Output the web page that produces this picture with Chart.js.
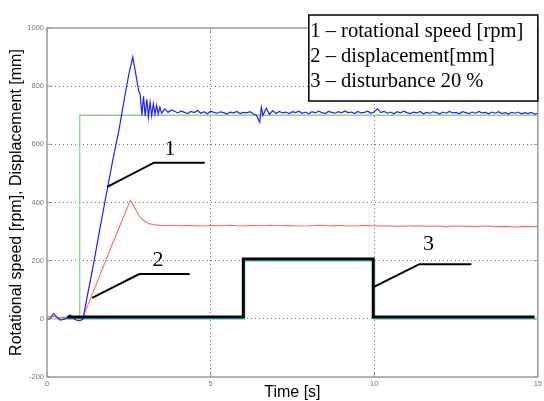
<!DOCTYPE html>
<html>
<head>
<meta charset="utf-8">
<script src="https://cdn.jsdelivr.net/npm/chart.js@4"></script>
<style>
  html, body { margin: 0; background: #fff; }
  #wrap { width: 544px; height: 401px; }
</style>
</head>
<body>
<div id="wrap"><canvas id="c"></canvas></div>
<script>
// Axis ranges / ticks
const timeTicks = [0, 5, 10, 15];
const valueTicks = [-200, 0, 200, 400, 600, 800, 1000];

// Reference speed (green step), [t, rpm]
const referenceSpeed = [[0, 0], [1.0, 0], [1.0, 700], [15, 700]];

// Measured rotational speed (blue), [t, rpm]
const rotationalSpeed = [
  [0, -3], [0.1, 2], [0.2, 18], [0.3, 6], [0.4, -4], [0.5, -2], [0.6, 1], [0.7, 14], [0.8, 3],
  [0.9, -5], [1.0, -6], [1.1, -2], [1.2, 60], [1.4, 175], [1.6, 300], [1.8, 420], [2.0, 540],
  [2.2, 650], [2.4, 780], [2.5, 840], [2.62, 900], [2.7, 850], [2.8, 785], [2.85, 770], [2.9, 700],
  [2.95, 765], [3.0, 698], [3.05, 755], [3.1, 694], [3.15, 745], [3.2, 698], [3.25, 740], [3.3, 704],
  [3.35, 734], [3.4, 704], [3.45, 728], [3.5, 707], [3.6, 722], [3.7, 710], [3.8, 718],
  [3.9, 714], [4.0, 708], [4.1, 715], [4.2, 710], [4.3, 706], [4.4, 713], [4.5, 709], [4.6, 716],
  [4.7, 707], [4.8, 712], [4.9, 705], [5.0, 714], [5.1, 710], [5.2, 707], [5.3, 712], [5.4, 709],
  [5.5, 704], [5.6, 711], [5.7, 708], [5.8, 713], [5.9, 706], [6.0, 710], [6.1, 708], [6.2, 712],
  [6.3, 705], [6.4, 700], [6.5, 676], [6.55, 728], [6.6, 700], [6.7, 724], [6.8, 703], [6.9, 716],
  [7.0, 706], [7.1, 713], [7.2, 708], [7.3, 711], [7.4, 706], [7.5, 712], [7.6, 709], [7.7, 714],
  [7.8, 707], [7.9, 711], [8.0, 705], [8.1, 712], [8.2, 708], [8.3, 714], [8.4, 709], [8.5, 706],
  [8.6, 713], [8.7, 710], [8.8, 707], [8.9, 712], [9.0, 708], [9.1, 715], [9.2, 709], [9.3, 711],
  [9.4, 706], [9.5, 713], [9.6, 708], [9.7, 710], [9.8, 714], [9.9, 707], [10.0, 712], [10.1, 722],
  [10.2, 709], [10.3, 713], [10.4, 707], [10.5, 711], [10.6, 705], [10.7, 712], [10.8, 708],
  [10.9, 714], [11.0, 709], [11.1, 706], [11.2, 711], [11.3, 708], [11.4, 713], [11.5, 705],
  [11.6, 710], [11.7, 707], [11.8, 712], [11.9, 709], [12.0, 704], [12.1, 711], [12.2, 707],
  [12.3, 713], [12.4, 708], [12.5, 710], [12.6, 705], [12.7, 712], [12.8, 709], [12.9, 706],
  [13.0, 711], [13.1, 707], [13.2, 713], [13.3, 708], [13.4, 710], [13.5, 705], [13.6, 711],
  [13.7, 707], [13.8, 712], [13.9, 706], [14.0, 709], [14.1, 704], [14.2, 710], [14.3, 707],
  [14.4, 711], [14.5, 705], [14.6, 709], [14.7, 706], [14.8, 710], [14.9, 704], [15.0, 707]
];

// Displacement (red), [t, mm]
const displacement = [
  [0, 6], [0.2, 9], [0.4, 4], [0.6, 6], [0.8, 5], [1.0, 4], [1.1, 6], [1.5, 117], [2.0, 258],
  [2.55, 408], [2.65, 390], [2.8, 356], [2.95, 338], [3.1, 328], [3.3, 323], [3.5, 321],
  [3.8, 322], [4.1, 320], [4.4, 321], [4.7, 319], [5.0, 321], [5.3, 320], [5.6, 322], [5.9, 319],
  [6.2, 321], [6.5, 320], [6.8, 322], [7.1, 320], [7.4, 321], [7.7, 319], [8.0, 320], [8.3, 322],
  [8.6, 320], [8.9, 321], [9.2, 319], [9.5, 320], [9.8, 321], [10.1, 319], [10.4, 320],
  [10.7, 318], [11.0, 319], [11.3, 320], [11.6, 318], [11.9, 319], [12.2, 317], [12.5, 319],
  [12.8, 318], [13.1, 317], [13.4, 319], [13.7, 317], [14.0, 318], [14.3, 316], [14.6, 318],
  [15.0, 317]
];

// Disturbance 20 % (black) and its reference (cyan)
const disturbance = [[0.62, 6], [6.0, 6], [6.0, 206], [9.97, 206], [9.97, 6], [14.9, 6]];
const disturbanceRef = [[0.62, 0], [6.03, 0], [6.03, 200], [10.0, 200], [10.0, 0], [14.95, 0]];

// Callout leader lines and their numbers
const leader1 = [[1.84, 454], [3.27, 537], [4.82, 537]];
const leader2 = [[1.38, 72], [2.82, 154], [4.36, 154]];
const leader3 = [[9.99, 110], [11.38, 188], [12.97, 188]];
const calloutText = ['1', '2', '3'];
const calloutPos = [[3.76, 563], [3.39, 183], [11.66, 237]];

const legendLines = [
  '1 \u2013 rotational speed [rpm]',
  '2 \u2013 displacement[mm]',
  '3 \u2013 disturbance 20 %'
];

const pts = arr => arr.map(p => ({ x: p[0], y: p[1] }));

function line(data, color, width) {
  return {
    data: pts(data), borderColor: color, borderWidth: width,
    pointRadius: 0, fill: false, tension: 0
  };
}

const extras = {
  id: 'extras',
  afterDraw(chart) {
    const { ctx, chartArea: a, scales: { x, y } } = chart;
    ctx.save();

    // inward tick marks, MATLAB style
    ctx.strokeStyle = '#999';
    ctx.lineWidth = 1;
    ctx.beginPath();
    timeTicks.forEach(t => {
      const px = x.getPixelForValue(t);
      ctx.moveTo(px, a.bottom); ctx.lineTo(px, a.bottom - 4);
      ctx.moveTo(px, a.top); ctx.lineTo(px, a.top + 4);
    });
    valueTicks.forEach(v => {
      const py = y.getPixelForValue(v);
      ctx.moveTo(a.left, py); ctx.lineTo(a.left + 4, py);
      ctx.moveTo(a.right, py); ctx.lineTo(a.right - 4, py);
    });
    ctx.stroke();

    // axes frame
    ctx.strokeStyle = '#9a9a9a';
    ctx.lineWidth = 1.5;
    ctx.strokeRect(a.left, a.top, a.right - a.left, a.bottom - a.top);

    // callout numbers
    ctx.fillStyle = '#000';
    ctx.font = '22px "Liberation Serif", "Times New Roman", serif';
    ctx.textAlign = 'center';
    ctx.textBaseline = 'alphabetic';
    calloutText.forEach((s, i) => {
      ctx.fillText(s, x.getPixelForValue(calloutPos[i][0]), y.getPixelForValue(calloutPos[i][1]));
    });

    // text box in the top right corner
    const bl = a.right - 229, bt = a.top - 13, bw = 229, bh = 86;
    ctx.fillStyle = '#fff';
    ctx.fillRect(bl, bt, bw, bh);
    ctx.strokeStyle = '#000';
    ctx.lineWidth = 1.5;
    ctx.strokeRect(bl, bt, bw, bh);
    ctx.fillStyle = '#000';
    ctx.font = '20.5px "Liberation Serif", "Times New Roman", serif';
    ctx.textAlign = 'left';
    legendLines.forEach((s, i) => ctx.fillText(s, bl + 1.5, bt + 22 + i * 25));

    ctx.restore();
  }
};

const gridColor = (ends) => c => ends.includes(c.tick.value) ? 'rgba(0,0,0,0)' : '#707070';
const dots = [1, 3];

new Chart(document.getElementById('c'), {
  type: 'line',
  data: {
    datasets: [
      line(disturbance, '#000', 3),
      line(leader1, '#000', 2),
      line(leader2, '#000', 2),
      line(leader3, '#000', 2),
      line(rotationalSpeed, '#2020ff', 1.2),
      line(displacement, '#ff6a6a', 1.1),
      line(referenceSpeed, '#8fd18f', 1.3),
      line(disturbanceRef, '#7fe5e5', 2.5)
    ]
  },
  options: {
    responsive: true,
    maintainAspectRatio: false,
    animation: false,
    layout: { autoPadding: false, padding: { top: 28, right: 2, bottom: 0, left: 0 } },
    plugins: { legend: { display: false }, tooltip: { enabled: false } },
    scales: {
      x: {
        type: 'linear', min: 0, max: 15,
        afterFit: s => { s.height = 24; },
        afterBuildTicks: s => { s.ticks = timeTicks.map(v => ({ value: v })); },
        ticks: {
          color: '#777', font: { family: 'Liberation Sans', size: 7.5 }, padding: 2, maxRotation: 0,
          callback: v => String(v)
        },
        grid: { color: gridColor([0, 15]), drawTicks: false, borderDash: dots },
        border: { display: false, dash: dots },
        title: {
          display: true, text: 'Time [s]', color: '#000',
          font: { family: 'Liberation Sans', size: 16, lineHeight: 1 }, padding: { top: 0, bottom: 0 }
        }
      },
      y: {
        min: -200, max: 1000,
        afterFit: s => { s.width = 47; },
        afterBuildTicks: s => { s.ticks = valueTicks.map(v => ({ value: v })); },
        ticks: {
          color: '#777', font: { family: 'Liberation Sans', size: 7.5 }, padding: 3,
          callback: v => String(v)
        },
        grid: { color: gridColor([-200, 1000]), drawTicks: false, borderDash: dots },
        border: { display: false, dash: dots },
        title: {
          display: true, text: 'Rotational speed [rpm], Displacement [mm]', color: '#000',
          font: { family: 'Liberation Sans', size: 16, lineHeight: 1 }, padding: { top: 9, bottom: 0 }
        }
      }
    }
  },
  plugins: [extras]
});
</script>
</body>
</html>
